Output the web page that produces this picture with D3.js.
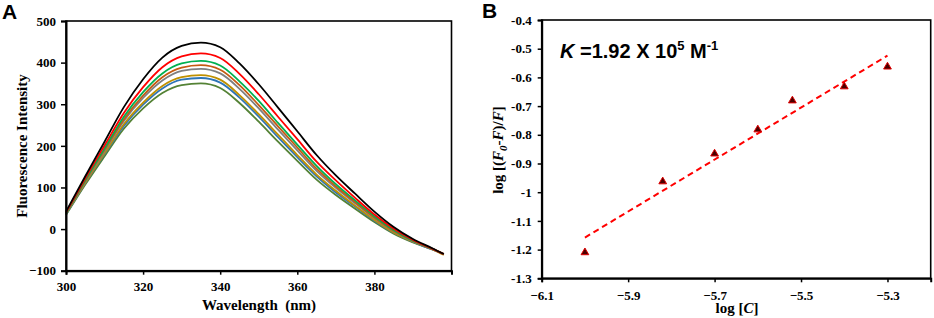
<!DOCTYPE html>
<html><head><meta charset="utf-8">
<script src="https://cdn.jsdelivr.net/npm/d3@7"></script>
<style>
body{margin:0;background:#fff;}
svg{display:block;}
</style></head><body>
<script>
// ---- Panel A data ----
const wavelengths = [300,305,310,315,320,325,330,335,340,345,350,355,360,365,370,375,380,385,390,395,398];
const seriesColors = ["#000000","#ff0000","#00b050","#c55a11","#7f7f7f","#bf9000","#2e75b6","#548235"];
const s1 = [42,127,210,293,360,412,440,448,437,398,348,292,235,178,129,85,42,5,-24,-46,-60];
const s2 = [40,122,201,279,341,389,415,422,411,373,324,270,216,162,117,75,35,1,-26,-47,-60];
const s3 = [38,118,194,270,329,374,398,404,393,355,308,255,203,152,108,69,31,-2,-28,-47,-60];
const s4 = [38,116,191,264,321,365,388,394,383,346,298,247,196,145,103,65,28,-4,-28,-48,-60];
const s5 = [37,114,187,260,315,357,380,385,374,337,290,239,189,140,99,62,26,-5,-29,-48,-60];
const s6 = [36,111,182,252,304,344,365,370,359,322,276,227,178,131,92,56,22,-8,-30,-48,-62];
const s7 = [35,110,180,248,299,338,359,363,352,316,270,221,173,127,88,54,20,-9,-31,-49,-60];
const s8 = [34,107,175,241,290,327,346,350,339,303,258,210,164,119,82,49,17,-11,-32,-49,-60];
const seriesA = [s1,s2,s3,s4,s5,s6,s7,s8];
const xTicksA = [300,320,340,360,380];
const yTicksA = [-100,0,100,200,300,400,500];

// ---- Panel B data ----
const logC = [-6.0,-5.82,-5.7,-5.6,-5.52,-5.4,-5.3];
const logF = [-1.21,-0.963,-0.866,-0.782,-0.681,-0.632,-0.563];
const xTicksB = [-6.1,-5.9,-5.7,-5.5,-5.3];
const yTicksB = [-1.3,-1.2,-1.1,-1,-0.9,-0.8,-0.7,-0.6,-0.5,-0.4];

const SERIF='"Liberation Serif","Times New Roman",serif';
const SANS='"Liberation Sans",Arial,sans-serif';
const W=934,H=318;
const svg=d3.select("body").append("svg").attr("width",W).attr("height",H);

function styleAxis(a){
  a.attr("font-family",SERIF).attr("font-size",13).attr("font-weight","bold");
  a.select(".domain").attr("stroke-width",2);
  a.selectAll(".tick line").attr("stroke-width",1.5);
  a.selectAll(".tick text").attr("fill","#000");
}

// ===== Panel A =====
const xA=d3.scaleLinear().domain([300,400]).range([66,451.5]);
const yA=d3.scaleLinear().domain([-100,500]).range([270.7,21]);
const gA=svg.append("g");
const line=d3.line().x((d,i)=>xA(wavelengths[i])).y(d=>yA(d)).curve(d3.curveMonotoneX);
for(let i=seriesA.length-1;i>=0;i--){
  gA.append("path").attr("d",line(seriesA[i])).attr("fill","none").attr("stroke",seriesColors[i]).attr("stroke-width",1.8);
}
gA.append("rect").attr("x",xA(300)).attr("y",yA(500)).attr("width",xA(400)-xA(300)).attr("height",yA(-100)-yA(500))
  .attr("fill","none").attr("stroke","#000").attr("stroke-width",1.6);
const axA=gA.append("g").attr("transform",`translate(0,${yA(-100)})`)
  .call(d3.axisBottom(xA).tickValues(xTicksA).tickSize(4).tickPadding(7).tickFormat(d3.format("d")));
const ayA=gA.append("g").attr("transform",`translate(${xA(300)},0)`)
  .call(d3.axisLeft(yA).tickValues(yTicksA).tickSize(5).tickPadding(5).tickFormat(d3.format("d")));
styleAxis(axA); styleAxis(ayA);
gA.append("text").attr("font-family",SERIF).attr("font-weight","bold").attr("font-size",15)
  .attr("transform",`translate(27,146) rotate(-90)`).attr("text-anchor","middle").text("Fluorescence Intensity");
gA.append("text").attr("font-family",SERIF).attr("font-weight","bold").attr("font-size",15)
  .attr("x",259).attr("y",310).attr("text-anchor","middle").attr("xml:space","preserve").text("Wavelength  (nm)");
gA.append("text").attr("font-family",SANS).attr("font-weight","bold").attr("font-size",21).attr("x",2).attr("y",19).text("A");

// ===== Panel B =====
const xB=d3.scaleLinear().domain([-6.1,-5.2]).range([541.7,930.7]);
const yB=d3.scaleLinear().domain([-1.3,-0.4]).range([278.3,20]);
const gB=svg.append("g");
gB.append("rect").attr("x",xB(-6.1)).attr("y",yB(-0.4)).attr("width",xB(-5.2)-xB(-6.1)).attr("height",yB(-1.3)-yB(-0.4))
  .attr("fill","none").attr("stroke","#000").attr("stroke-width",1.6);
const axB=gB.append("g").attr("transform",`translate(0,${yB(-1.3)})`)
  .call(d3.axisBottom(xB).tickValues(xTicksB).tickSize(4).tickPadding(8).tickFormat(d3.format(".1f")));
const ayB=gB.append("g").attr("transform",`translate(${xB(-6.1)},0)`)
  .call(d3.axisLeft(yB).tickValues(yTicksB).tickSize(4).tickPadding(6).tickFormat(d=>String(+d.toFixed(1))));
styleAxis(axB); styleAxis(ayB);
// regression line from the data points
const mx=d3.mean(logC), my=d3.mean(logF);
const slope=d3.sum(logC,(x,i)=>(x-mx)*(logF[i]-my))/d3.sum(logC,x=>(x-mx)*(x-mx));
const icpt=my-slope*mx;
const x0=d3.min(logC), x1=d3.max(logC);
gB.append("line").attr("x1",xB(x0)).attr("y1",yB(slope*x0+icpt)).attr("x2",xB(x1)).attr("y2",yB(slope*x1+icpt))
  .attr("stroke","#ff0000").attr("stroke-width",2).attr("stroke-dasharray","6,4");
const tri=d3.symbol().type(d3.symbolTriangle).size(26);
gB.selectAll("path.pt").data(logC).join("path").attr("class","pt").attr("d",tri())
  .attr("transform",(x,i)=>`translate(${xB(x)},${yB(logF[i])})`)
  .attr("fill","#4a0000").attr("stroke","#e00000").attr("stroke-width",1);
// K annotation
const kt=gB.append("text").attr("x",560).attr("y",58).attr("font-family",SANS).attr("font-weight","bold").attr("font-size",20);
kt.append("tspan").attr("font-style","italic").text("K");
kt.append("tspan").text(" =1.92 X 10");
kt.append("tspan").attr("font-size",13).attr("dy",-8).text("5");
kt.append("tspan").attr("dy",8).text(" M");
kt.append("tspan").attr("font-size",13).attr("dy",-8).text("-1");
// axis labels
const yl=gB.append("text").attr("font-family",SERIF).attr("font-weight","bold").attr("font-size",15)
  .attr("transform",`translate(503,150) rotate(-90)`).attr("text-anchor","middle");
yl.append("tspan").text("log [(");
yl.append("tspan").attr("font-style","italic").text("F");
yl.append("tspan").attr("font-style","italic").attr("font-size",11).attr("dy",4).text("0");
yl.append("tspan").attr("dy",-4).text("-");
yl.append("tspan").attr("font-style","italic").text("F");
yl.append("tspan").text(")/");
yl.append("tspan").attr("font-style","italic").text("F");
yl.append("tspan").text("]");
const xl=gB.append("text").attr("font-family",SERIF).attr("font-weight","bold").attr("font-size",15)
  .attr("x",737).attr("y",313).attr("text-anchor","middle");
xl.append("tspan").text("log [");
xl.append("tspan").attr("font-style","italic").text("C");
xl.append("tspan").text("]");
gB.append("text").attr("font-family",SANS).attr("font-weight","bold").attr("font-size",21).attr("x",482).attr("y",18).text("B");
</script>
</body></html>
